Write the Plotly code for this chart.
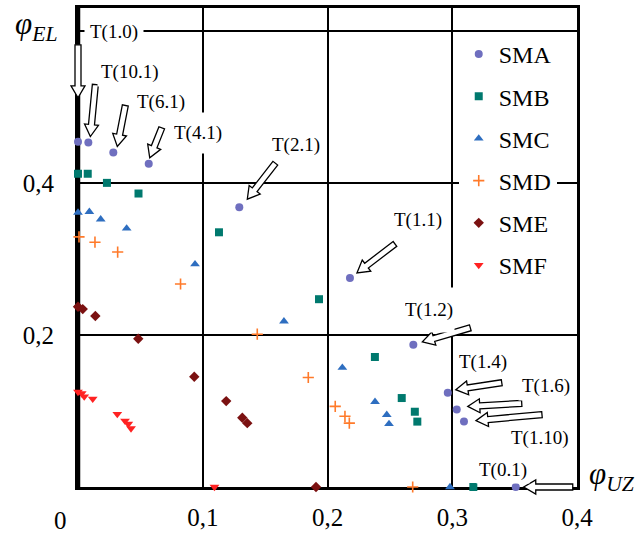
import math
import plotly.graph_objects as go

# ---------------- data ----------------
series_names = ["SMA", "SMB", "SMC", "SMD", "SME", "SMF"]

sma_x = [0.0, 0.0083, 0.0283, 0.0567, 0.1293, 0.218, 0.2688, 0.2964, 0.3036, 0.3094, 0.3509]
sma_y = [0.454, 0.453, 0.440, 0.425, 0.368, 0.275, 0.187, 0.124, 0.102, 0.086, 0.0]

smb_x = [0.0, 0.0078, 0.0232, 0.0485, 0.113, 0.1932, 0.238, 0.2595, 0.270, 0.272, 0.3169]
smb_y = [0.412, 0.412, 0.400, 0.386, 0.335, 0.247, 0.171, 0.117, 0.099, 0.086, 0.0]

smc_x = [0.0, 0.0091, 0.0182, 0.039, 0.0938, 0.1651, 0.2119, 0.2381, 0.2475, 0.2493, 0.2982]
smc_y = [0.361, 0.362, 0.352, 0.340, 0.293, 0.218, 0.157, 0.112, 0.095, 0.083, 0.0]

smd_x = [0.0008, 0.0136, 0.0318, 0.0822, 0.1437, 0.1846, 0.2062, 0.214, 0.2175, 0.2683]
smd_y = [0.329, 0.322, 0.309, 0.267, 0.201, 0.144, 0.106, 0.093, 0.084, 0.0]

sme_x = [0.0, 0.0038, 0.0139, 0.0483, 0.0932, 0.1188, 0.1317, 0.1357, 0.1908]
sme_y = [0.237, 0.234, 0.225, 0.195, 0.145, 0.113, 0.091, 0.084, 0.0]

smf_x = [0.0, 0.003, 0.005, 0.0118, 0.0315, 0.0377, 0.0403, 0.0425, 0.1094]
smf_y = [0.125, 0.123, 0.119, 0.116, 0.096, 0.087, 0.083, 0.077, 0.0]

x_tick_vals = [0.1, 0.2, 0.3, 0.4]
x_tick_text = ["0,1", "0,2", "0,3", "0,4"]
y_tick_vals = [0.2, 0.4, 0.6]
y_tick_text = ["0,2", "0,4", " "]

# labels attached to SMA points (index into sma arrays)
point_labels = ["T(1.0)", "T(10.1)", "T(6.1)", "T(4.1)", "T(2.1)", "T(1.1)",
                "T(1.2)", "T(1.4)", "T(1.6)", "T(1.10)", "T(0.1)"]

# ---------------- styling ----------------
FONT = "Liberation Serif"
W, H = 641, 533
ML, MR, MT, MB = 78, 64, 8, 46
XR = [0, 0.4]
YR = [0, 0.63]
PW, PH = W - ML - MR, H - MT - MB
KX = PW / (XR[1] - XR[0])
KY = PH / (YR[1] - YR[0])

styles = {
    "SMA": dict(symbol="circle", size=8, color="#6F6FBF"),
    "SMB": dict(symbol="square", size=8, color="#00796E"),
    "SMC": dict(symbol="triangle-up", size=8.5, color="#2E6EC0"),
    "SMD": dict(symbol="cross-thin", size=8, color="#FF7A2A",
                line=dict(color="#FF7A2A", width=1.6)),
    "SME": dict(symbol="diamond", size=8, color="#7B1111"),
    "SMF": dict(symbol="triangle-down", size=8.5, color="#FF2222"),
}

# label layout: (tip offset px, tail offset px, label offset px, pad, box height)
# all offsets relative to the labelled point, in pixels (y down)
label_geom = [
    ((0, -44), (0, -97), (36, -110), 5, None),
    ((2, -6), (7, -58), (42, -71), 3, None),
    ((4, -6), (12, -47), (48, -50), 3, None),
    ((1, -6), (13, -36), (49, -31), 1, 38),
    ((8, -8), (36, -44), (57, -62), 3, None),
    ((7, -5), (45, -34), (68, -58), 3, None),
    ((9, -3), (57, -17), (16, -35), 1, 42),
    ((8, -3), (54, -10), (35, -31), 3, None),
    ((11, -3), (65, -6), (89, -23), 3, None),
    ((12, -1), (78, -7), (76, 16), 3, None),
    ((8, 0), (57, 0), (-13, -17), 2, None),
]

fig = go.Figure()
all_data = [(sma_x, sma_y), (smb_x, smb_y), (smc_x, smc_y),
            (smd_x, smd_y), (sme_x, sme_y), (smf_x, smf_y)]
for name, (xs, ys) in zip(series_names, all_data):
    fig.add_trace(go.Scatter(x=xs, y=ys, mode="markers", name=name,
                             legendgroup=name, marker=styles[name],
                             cliponaxis=False))


def to_paper(xd, yd, ox, oy):
    """data point + pixel offset (y down) -> paper coords"""
    return ((xd - XR[0]) * KX + ox) / PW, ((yd - YR[0]) * KY - oy) / PH


def px_to_paper(px, py):
    return (px - ML) / PW, (H - MB - py) / PH


shapes = []
annotations = []
HL, SW, HW = 12, 3, 7
for i, text in enumerate(point_labels):
    xd, yd = sma_x[i], sma_y[i]
    tip, tail, lab, pad, bh = label_geom[i]
    dx, dy = tip[0] - tail[0], tip[1] - tail[1]
    L = math.hypot(dx, dy)
    ux, uy = dx / L, dy / L
    nx, ny = -uy, ux
    bx, by = tail[0] + ux * (L - HL), tail[1] + uy * (L - HL)
    pts = [
        (tail[0] + nx * SW, tail[1] + ny * SW),
        (bx + nx * SW, by + ny * SW),
        (bx + nx * HW, by + ny * HW),
        (tip[0], tip[1]),
        (bx - nx * HW, by - ny * HW),
        (bx - nx * SW, by - ny * SW),
        (tail[0] - nx * SW, tail[1] - ny * SW),
    ]
    ppts = [to_paper(xd, yd, ox, oy) for ox, oy in pts]
    path = "M " + " L ".join(f"{a:.6f},{b:.6f}" for a, b in ppts) + " Z"
    shapes.append(dict(type="path", path=path, xref="paper", yref="paper",
                       fillcolor="white", line=dict(color="black", width=1.3),
                       layer="above"))
    lx, ly = to_paper(xd, yd, lab[0], lab[1])
    ann = dict(x=lx, y=ly, xref="paper", yref="paper", text=text,
               xanchor="center", yanchor="middle",
               showarrow=False, bgcolor="white", borderpad=pad,
               font=dict(family=FONT, size=19, color="black"))
    if bh:
        ann["height"] = bh
        ann["valign"] = "middle"
    annotations.append(ann)

# origin label and axis titles
annotations.append(dict(x=0, y=0, xref="x", yref="y", text="0", showarrow=False,
                        xanchor="center", yanchor="middle",
                        xshift=-18, yshift=-33,
                        font=dict(family=FONT, size=25, color="black")))
ex, ey = px_to_paper(36, 26)
annotations.append(dict(x=ex, y=ey, xref="paper", yref="paper",
                        xanchor="center", yanchor="middle",
                        text="<i>φ</i><sub><i>EL</i></sub>", showarrow=False,
                        font=dict(family=FONT, size=31, color="black")))
ux_, uy_ = px_to_paper(612, 476)
annotations.append(dict(x=ux_, y=uy_, xref="paper", yref="paper",
                        xanchor="center", yanchor="middle",
                        text="<i>φ</i><sub><i>UZ</i></sub>", showarrow=False,
                        font=dict(family=FONT, size=31, color="black")))

# thicker left border
shapes.append(dict(type="line", xref="paper", yref="paper", x0=0, x1=0, y0=0, y1=1,
                   line=dict(color="black", width=4.5), layer="below"))

axis_common = dict(showgrid=True, gridcolor="black", gridwidth=1.8,
                   showline=True, linecolor="black", linewidth=3, mirror=True,
                   ticks="", zeroline=False, layer="below traces", automargin=False,
                   tickfont=dict(family=FONT, size=25, color="black"))

fig.update_layout(
    width=W, height=H, autosize=False,
    margin=dict(l=ML, r=MR, t=MT, b=MB, pad=0),
    paper_bgcolor="white", plot_bgcolor="white",
    xaxis=dict(range=XR, tickvals=x_tick_vals, ticktext=x_tick_text,
               ticklabelstandoff=6, **axis_common),
    yaxis=dict(range=YR, tickvals=y_tick_vals, ticktext=y_tick_text,
               ticklabelstandoff=16, **axis_common),
    legend=dict(x=0.763, y=0.95, xanchor="left", yanchor="top",
                bgcolor="white", borderwidth=0, tracegroupgap=8,
                font=dict(family=FONT, size=24, color="black")),
    shapes=shapes, annotations=annotations,
    showlegend=True,
)

fig.write_html("out.html")
